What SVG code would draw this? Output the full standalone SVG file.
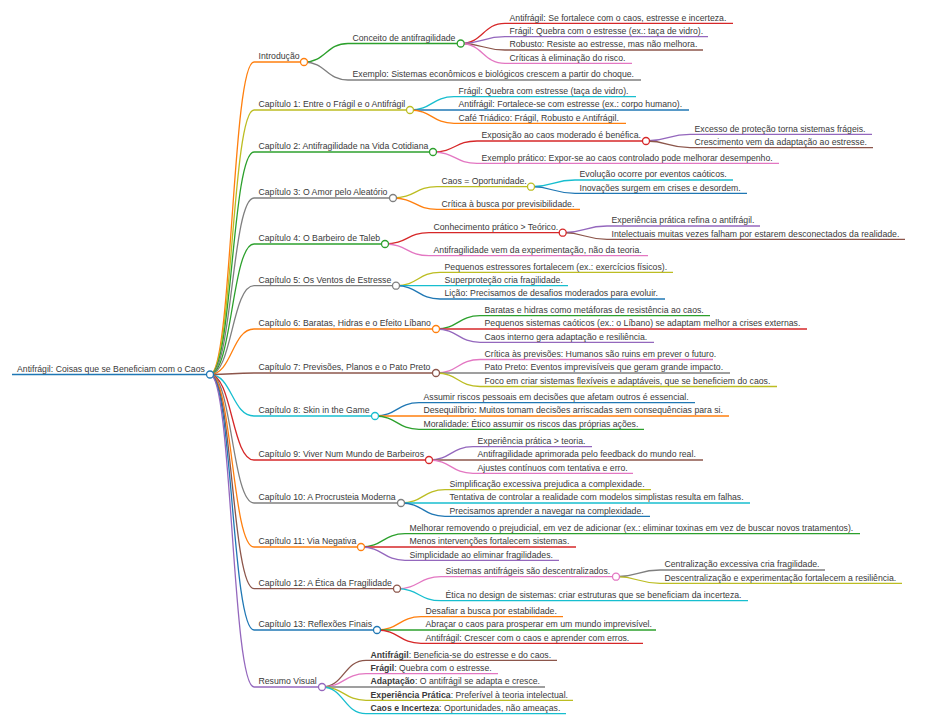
<svg xmlns="http://www.w3.org/2000/svg" width="938" height="728" viewBox="0 0 938 728">
<style>
.t{font-family:"Liberation Sans",Arial,sans-serif;font-size:8.7px;fill:#3a3a3a}
.b{font-weight:bold}
path,line{fill:none;stroke-width:1.3}
circle{fill:#fff;stroke-width:1.3}
.blue{stroke:#1f77b4}.orange{stroke:#ff7f0e}.green{stroke:#2ca02c}.red{stroke:#d62728}.purple{stroke:#9467bd}
.brown{stroke:#8c564b}.pink{stroke:#e377c2}.gray{stroke:#7f7f7f}.olive{stroke:#bcbd22}.cyan{stroke:#17becf}
</style>
<rect width="938" height="728" fill="#fff"/>
<g id="connectors">
<path class="orange" d="M210,374.5C232,374.5 232,62 254,62"/>
<path class="olive" d="M210,374.5C232,374.5 232,110 254,110"/>
<path class="green" d="M210,374.5C232,374.5 232,152 254,152"/>
<path class="gray" d="M210,374.5C232,374.5 232,198 254,198"/>
<path class="green" d="M210,374.5C232,374.5 232,244 254,244"/>
<path class="gray" d="M210,374.5C232,374.5 232,285.7 254,285.7"/>
<path class="orange" d="M210,374.5C232,374.5 232,329 254,329"/>
<path class="brown" d="M210,374.5C232,374.5 232,373 254,373"/>
<path class="cyan" d="M210,374.5C232,374.5 232,416 254,416"/>
<path class="red" d="M210,374.5C232,374.5 232,460 254,460"/>
<path class="gray" d="M210,374.5C232,374.5 232,503 254,503"/>
<path class="orange" d="M210,374.5C232,374.5 232,547 254,547"/>
<path class="brown" d="M210,374.5C232,374.5 232,588.7 254,588.7"/>
<path class="blue" d="M210,374.5C232,374.5 232,630 254,630"/>
<path class="purple" d="M210,374.5C232,374.5 232,687 254,687"/>

<path class="green" d="M304,62C326,62 326,43.5 348,43.5"/>
<path class="gray" d="M304,62C326,62 326,80 348,80"/>
<path class="red" d="M460.7,43.5C482.85,43.5 482.85,23.3 505,23.3"/>
<path class="purple" d="M460.7,43.5C482.85,43.5 482.85,36.7 505,36.7"/>
<path class="brown" d="M460.7,43.5C482.85,43.5 482.85,50 505,50"/>
<path class="pink" d="M460.7,43.5C482.85,43.5 482.85,63.3 505,63.3"/>

<path class="cyan" d="M410,110C432,110 432,96.7 454,96.7"/>
<path class="blue" d="M410,110C432,110 432,110 454,110"/>
<path class="orange" d="M410,110C432,110 432,123.3 454,123.3"/>

<path class="red" d="M433,152C455,152 455,141 477,141"/>
<path class="pink" d="M433,152C455,152 455,163.3 477,163.3"/>
<path class="purple" d="M646,141C668,141 668,134.3 690,134.3"/>
<path class="brown" d="M646,141C668,141 668,147.6 690,147.6"/>

<path class="olive" d="M393,198C415,198 415,186.7 437,186.7"/>
<path class="orange" d="M393,198C415,198 415,209.3 437,209.3"/>
<path class="cyan" d="M531,186.7C553,186.7 553,180 575,180"/>
<path class="blue" d="M531,186.7C553,186.7 553,193.3 575,193.3"/>

<path class="red" d="M385,244C407,244 407,232.7 429,232.7"/>
<path class="pink" d="M385,244C407,244 407,255.7 429,255.7"/>
<path class="purple" d="M562.7,232.7C584.85,232.7 584.85,226 607,226"/>
<path class="brown" d="M562.7,232.7C584.85,232.7 584.85,239.3 607,239.3"/>

<path class="olive" d="M396,285.7C418,285.7 418,272.3 440,272.3"/>
<path class="cyan" d="M396,285.7C418,285.7 418,285.7 440,285.7"/>
<path class="blue" d="M396,285.7C418,285.7 418,299 440,299"/>

<path class="green" d="M436,329C458,329 458,315.7 480,315.7"/>
<path class="red" d="M436,329C458,329 458,329 480,329"/>
<path class="purple" d="M436,329C458,329 458,342.3 480,342.3"/>

<path class="pink" d="M436,373C458,373 458,359.5 480,359.5"/>
<path class="gray" d="M436,373C458,373 458,373 480,373"/>
<path class="olive" d="M436,373C458,373 458,386.5 480,386.5"/>

<path class="blue" d="M375,416C397,416 397,402.7 419,402.7"/>
<path class="orange" d="M375,416C397,416 397,416 419,416"/>
<path class="green" d="M375,416C397,416 397,429.3 419,429.3"/>

<path class="purple" d="M429,460C451,460 451,446.7 473,446.7"/>
<path class="brown" d="M429,460C451,460 451,460 473,460"/>
<path class="pink" d="M429,460C451,460 451,473.3 473,473.3"/>

<path class="olive" d="M401,503C423,503 423,489.7 445,489.7"/>
<path class="cyan" d="M401,503C423,503 423,503 445,503"/>
<path class="blue" d="M401,503C423,503 423,516.3 445,516.3"/>

<path class="green" d="M361,547C383,547 383,533.7 405,533.7"/>
<path class="red" d="M361,547C383,547 383,547 405,547"/>
<path class="purple" d="M361,547C383,547 383,560.3 405,560.3"/>

<path class="pink" d="M397,588.7C419,588.7 419,576.7 441,576.7"/>
<path class="cyan" d="M397,588.7C419,588.7 419,600.7 441,600.7"/>
<path class="gray" d="M616,576.7C638,576.7 638,570 660,570"/>
<path class="olive" d="M616,576.7C638,576.7 638,583.3 660,583.3"/>

<path class="orange" d="M377,630C399,630 399,616.7 421,616.7"/>
<path class="green" d="M377,630C399,630 399,630 421,630"/>
<path class="red" d="M377,630C399,630 399,643.3 421,643.3"/>

<path class="brown" d="M322,687C344,687 344,660.3 366,660.3"/>
<path class="pink" d="M322,687C344,687 344,673.7 366,673.7"/>
<path class="gray" d="M322,687C344,687 344,687 366,687"/>
<path class="olive" d="M322,687C344,687 344,700.3 366,700.3"/>
<path class="cyan" d="M322,687C344,687 344,713.7 366,713.7"/>
</g>

<g id="root"><line class="blue" x1="12" y1="374.5" x2="210" y2="374.5"/><circle class="blue" cx="210" cy="374.5" r="3.5"/><text class="t" x="17" y="371.9">Antifrágil: Coisas que se Beneficiam com o Caos</text></g>

<g id="intro"><line class="orange" x1="254" y1="62" x2="304" y2="62"/><circle class="orange" cx="304" cy="62" r="3.5"/><text class="t" x="258.5" y="59.4">Introdução</text></g>
<g id="conceito"><line class="green" x1="348" y1="43.5" x2="460.7" y2="43.5"/><circle class="green" cx="460.7" cy="43.5" r="3.5"/><text class="t" x="352.5" y="40.9">Conceito de antifragilidade</text></g>
<g id="conceito-1"><line class="red" x1="505" y1="23.3" x2="733" y2="23.3"/><text class="t" x="509.5" y="20.7">Antifrágil: Se fortalece com o caos, estresse e incerteza.</text></g>
<g id="conceito-2"><line class="purple" x1="505" y1="36.7" x2="708" y2="36.7"/><text class="t" x="509.5" y="34.1">Frágil: Quebra com o estresse (ex.: taça de vidro).</text></g>
<g id="conceito-3"><line class="brown" x1="505" y1="50" x2="703" y2="50"/><text class="t" x="509.5" y="47.4">Robusto: Resiste ao estresse, mas não melhora.</text></g>
<g id="conceito-4"><line class="pink" x1="505" y1="63.3" x2="632" y2="63.3"/><text class="t" x="509.5" y="60.7">Críticas à eliminação do risco.</text></g>
<g id="intro-exemplo"><line class="gray" x1="348" y1="80" x2="641" y2="80"/><text class="t" x="352.5" y="77.4">Exemplo: Sistemas econômicos e biológicos crescem a partir do choque.</text></g>

<g id="cap1"><line class="olive" x1="254" y1="110" x2="410" y2="110"/><circle class="olive" cx="410" cy="110" r="3.5"/><text class="t" x="258.5" y="107.4">Capítulo 1: Entre o Frágil e o Antifrágil</text></g>
<g id="cap1-1"><line class="cyan" x1="454" y1="96.7" x2="636" y2="96.7"/><text class="t" x="458.5" y="94.1">Frágil: Quebra com estresse (taça de vidro).</text></g>
<g id="cap1-2"><line class="blue" x1="454" y1="110" x2="689" y2="110"/><text class="t" x="458.5" y="107.4">Antifrágil: Fortalece-se com estresse (ex.: corpo humano).</text></g>
<g id="cap1-3"><line class="orange" x1="454" y1="123.3" x2="626" y2="123.3"/><text class="t" x="458.5" y="120.7">Café Triádico: Frágil, Robusto e Antifrágil.</text></g>

<g id="cap2"><line class="green" x1="254" y1="152" x2="433" y2="152"/><circle class="green" cx="433" cy="152" r="3.5"/><text class="t" x="258.5" y="149.4">Capítulo 2: Antifragilidade na Vida Cotidiana</text></g>
<g id="cap2-1"><line class="red" x1="477" y1="141" x2="646" y2="141"/><circle class="red" cx="646" cy="141" r="3.5"/><text class="t" x="481.5" y="138.4">Exposição ao caos moderado é benéfica.</text></g>
<g id="cap2-1-1"><line class="purple" x1="690" y1="134.3" x2="872" y2="134.3"/><text class="t" x="694.5" y="131.7">Excesso de proteção torna sistemas frágeis.</text></g>
<g id="cap2-1-2"><line class="brown" x1="690" y1="147.6" x2="873" y2="147.6"/><text class="t" x="694.5" y="145">Crescimento vem da adaptação ao estresse.</text></g>
<g id="cap2-2"><line class="pink" x1="477" y1="163.3" x2="779" y2="163.3"/><text class="t" x="481.5" y="160.7">Exemplo prático: Expor-se ao caos controlado pode melhorar desempenho.</text></g>

<g id="cap3"><line class="gray" x1="254" y1="198" x2="393" y2="198"/><circle class="gray" cx="393" cy="198" r="3.5"/><text class="t" x="258.5" y="195.4">Capítulo 3: O Amor pelo Aleatório</text></g>
<g id="cap3-1"><line class="olive" x1="437" y1="186.7" x2="531" y2="186.7"/><circle class="olive" cx="531" cy="186.7" r="3.5"/><text class="t" x="441.5" y="184.1">Caos = Oportunidade.</text></g>
<g id="cap3-1-1"><line class="cyan" x1="575" y1="180" x2="733" y2="180"/><text class="t" x="579.5" y="177.4">Evolução ocorre por eventos caóticos.</text></g>
<g id="cap3-1-2"><line class="blue" x1="575" y1="193.3" x2="747" y2="193.3"/><text class="t" x="579.5" y="190.7">Inovações surgem em crises e desordem.</text></g>
<g id="cap3-2"><line class="orange" x1="437" y1="209.3" x2="580" y2="209.3"/><text class="t" x="441.5" y="206.7">Crítica à busca por previsibilidade.</text></g>

<g id="cap4"><line class="green" x1="254" y1="244" x2="385" y2="244"/><circle class="green" cx="385" cy="244" r="3.5"/><text class="t" x="258.5" y="241.4">Capítulo 4: O Barbeiro de Taleb</text></g>
<g id="cap4-1"><line class="red" x1="429" y1="232.7" x2="562.7" y2="232.7"/><circle class="red" cx="562.7" cy="232.7" r="3.5"/><text class="t" x="433.5" y="230.1">Conhecimento prático &gt; Teórico.</text></g>
<g id="cap4-1-1"><line class="purple" x1="607" y1="226" x2="760" y2="226"/><text class="t" x="611.5" y="223.4">Experiência prática refina o antifrágil.</text></g>
<g id="cap4-1-2"><line class="brown" x1="607" y1="239.3" x2="905" y2="239.3"/><text class="t" x="611.5" y="236.7">Intelectuais muitas vezes falham por estarem desconectados da realidade.</text></g>
<g id="cap4-2"><line class="pink" x1="429" y1="255.7" x2="648" y2="255.7"/><text class="t" x="433.5" y="253.1">Antifragilidade vem da experimentação, não da teoria.</text></g>

<g id="cap5"><line class="gray" x1="254" y1="285.7" x2="396" y2="285.7"/><circle class="gray" cx="396" cy="285.7" r="3.5"/><text class="t" x="258.5" y="283.1">Capítulo 5: Os Ventos de Estresse</text></g>
<g id="cap5-1"><line class="olive" x1="440" y1="272.3" x2="673" y2="272.3"/><text class="t" x="444.5" y="269.7">Pequenos estressores fortalecem (ex.: exercícios físicos).</text></g>
<g id="cap5-2"><line class="cyan" x1="440" y1="285.7" x2="568" y2="285.7"/><text class="t" x="444.5" y="283.1">Superproteção cria fragilidade.</text></g>
<g id="cap5-3"><line class="blue" x1="440" y1="299" x2="665" y2="299"/><text class="t" x="444.5" y="296.4">Lição: Precisamos de desafios moderados para evoluir.</text></g>

<g id="cap6"><line class="orange" x1="254" y1="329" x2="436" y2="329"/><circle class="orange" cx="436" cy="329" r="3.5"/><text class="t" x="258.5" y="326.4">Capítulo 6: Baratas, Hidras e o Efeito Líbano</text></g>
<g id="cap6-1"><line class="green" x1="480" y1="315.7" x2="710" y2="315.7"/><text class="t" x="484.5" y="313.1">Baratas e hidras como metáforas de resistência ao caos.</text></g>
<g id="cap6-2"><line class="red" x1="480" y1="329" x2="807" y2="329"/><text class="t" x="484.5" y="326.4">Pequenos sistemas caóticos (ex.: o Líbano) se adaptam melhor a crises externas.</text></g>
<g id="cap6-3"><line class="purple" x1="480" y1="342.3" x2="654" y2="342.3"/><text class="t" x="484.5" y="339.7">Caos interno gera adaptação e resiliência.</text></g>

<g id="cap7"><line class="brown" x1="254" y1="373" x2="436" y2="373"/><circle class="brown" cx="436" cy="373" r="3.5"/><text class="t" x="258.5" y="370.4">Capítulo 7: Previsões, Planos e o Pato Preto</text></g>
<g id="cap7-1"><line class="pink" x1="480" y1="359.5" x2="713" y2="359.5"/><text class="t" x="484.5" y="356.9">Crítica às previsões: Humanos são ruins em prever o futuro.</text></g>
<g id="cap7-2"><line class="gray" x1="480" y1="373" x2="730" y2="373"/><text class="t" x="484.5" y="370.4">Pato Preto: Eventos imprevisíveis que geram grande impacto.</text></g>
<g id="cap7-3"><line class="olive" x1="480" y1="386.5" x2="777" y2="386.5"/><text class="t" x="484.5" y="383.9">Foco em criar sistemas flexíveis e adaptáveis, que se beneficiem do caos.</text></g>

<g id="cap8"><line class="cyan" x1="254" y1="416" x2="375" y2="416"/><circle class="cyan" cx="375" cy="416" r="3.5"/><text class="t" x="258.5" y="413.4">Capítulo 8: Skin in the Game</text></g>
<g id="cap8-1"><line class="blue" x1="419" y1="402.7" x2="695" y2="402.7"/><text class="t" x="423.5" y="400.1">Assumir riscos pessoais em decisões que afetam outros é essencial.</text></g>
<g id="cap8-2"><line class="orange" x1="419" y1="416" x2="729" y2="416"/><text class="t" x="423.5" y="413.4">Desequilíbrio: Muitos tomam decisões arriscadas sem consequências para si.</text></g>
<g id="cap8-3"><line class="green" x1="419" y1="429.3" x2="644" y2="429.3"/><text class="t" x="423.5" y="426.7">Moralidade: Ético assumir os riscos das próprias ações.</text></g>

<g id="cap9"><line class="red" x1="254" y1="460" x2="429" y2="460"/><circle class="red" cx="429" cy="460" r="3.5"/><text class="t" x="258.5" y="457.4">Capítulo 9: Viver Num Mundo de Barbeiros</text></g>
<g id="cap9-1"><line class="purple" x1="473" y1="446.7" x2="592" y2="446.7"/><text class="t" x="477.5" y="444.1">Experiência prática &gt; teoria.</text></g>
<g id="cap9-2"><line class="brown" x1="473" y1="460" x2="703" y2="460"/><text class="t" x="477.5" y="457.4">Antifragilidade aprimorada pelo feedback do mundo real.</text></g>
<g id="cap9-3"><line class="pink" x1="473" y1="473.3" x2="633" y2="473.3"/><text class="t" x="477.5" y="470.7">Ajustes contínuos com tentativa e erro.</text></g>

<g id="cap10"><line class="gray" x1="254" y1="503" x2="401" y2="503"/><circle class="gray" cx="401" cy="503" r="3.5"/><text class="t" x="258.5" y="500.4">Capítulo 10: A Procrusteia Moderna</text></g>
<g id="cap10-1"><line class="olive" x1="445" y1="489.7" x2="651" y2="489.7"/><text class="t" x="449.5" y="487.1">Simplificação excessiva prejudica a complexidade.</text></g>
<g id="cap10-2"><line class="cyan" x1="445" y1="503" x2="750" y2="503"/><text class="t" x="449.5" y="500.4">Tentativa de controlar a realidade com modelos simplistas resulta em falhas.</text></g>
<g id="cap10-3"><line class="blue" x1="445" y1="516.3" x2="650" y2="516.3"/><text class="t" x="449.5" y="513.7">Precisamos aprender a navegar na complexidade.</text></g>

<g id="cap11"><line class="orange" x1="254" y1="547" x2="361" y2="547"/><circle class="orange" cx="361" cy="547" r="3.5"/><text class="t" x="258.5" y="544.4">Capítulo 11: Via Negativa</text></g>
<g id="cap11-1"><line class="green" x1="405" y1="533.7" x2="860" y2="533.7"/><text class="t" x="409.5" y="531.1">Melhorar removendo o prejudicial, em vez de adicionar (ex.: eliminar toxinas em vez de buscar novos tratamentos).</text></g>
<g id="cap11-2"><line class="red" x1="405" y1="547" x2="576" y2="547"/><text class="t" x="409.5" y="544.4">Menos intervenções fortalecem sistemas.</text></g>
<g id="cap11-3"><line class="purple" x1="405" y1="560.3" x2="559" y2="560.3"/><text class="t" x="409.5" y="557.7">Simplicidade ao eliminar fragilidades.</text></g>

<g id="cap12"><line class="brown" x1="254" y1="588.7" x2="397" y2="588.7"/><circle class="brown" cx="397" cy="588.7" r="3.5"/><text class="t" x="258.5" y="586.1">Capítulo 12: A Ética da Fragilidade</text></g>
<g id="cap12-1"><line class="pink" x1="441" y1="576.7" x2="616" y2="576.7"/><circle class="pink" cx="616" cy="576.7" r="3.5"/><text class="t" x="445.5" y="574.1">Sistemas antifrágeis são descentralizados.</text></g>
<g id="cap12-1-1"><line class="gray" x1="660" y1="570" x2="825" y2="570"/><text class="t" x="664.5" y="567.4">Centralização excessiva cria fragilidade.</text></g>
<g id="cap12-1-2"><line class="olive" x1="660" y1="583.3" x2="902" y2="583.3"/><text class="t" x="664.5" y="580.7">Descentralização e experimentação fortalecem a resiliência.</text></g>
<g id="cap12-2"><line class="cyan" x1="441" y1="600.7" x2="748" y2="600.7"/><text class="t" x="445.5" y="598.1">Ética no design de sistemas: criar estruturas que se beneficiam da incerteza.</text></g>

<g id="cap13"><line class="blue" x1="254" y1="630" x2="377" y2="630"/><circle class="blue" cx="377" cy="630" r="3.5"/><text class="t" x="258.5" y="627.4">Capítulo 13: Reflexões Finais</text></g>
<g id="cap13-1"><line class="orange" x1="421" y1="616.7" x2="563" y2="616.7"/><text class="t" x="425.5" y="614.1">Desafiar a busca por estabilidade.</text></g>
<g id="cap13-2"><line class="green" x1="421" y1="630" x2="656" y2="630"/><text class="t" x="425.5" y="627.4">Abraçar o caos para prosperar em um mundo imprevisível.</text></g>
<g id="cap13-3"><line class="red" x1="421" y1="643.3" x2="643" y2="643.3"/><text class="t" x="425.5" y="640.7">Antifrágil: Crescer com o caos e aprender com erros.</text></g>

<g id="resumo"><line class="purple" x1="254" y1="687" x2="322" y2="687"/><circle class="purple" cx="322" cy="687" r="3.5"/><text class="t" x="258.5" y="684.4">Resumo Visual</text></g>
<g id="resumo-1"><line class="brown" x1="366" y1="660.3" x2="557" y2="660.3"/><text class="t" x="370.5" y="657.7"><tspan class="b">Antifrágil</tspan>: Beneficia-se do estresse e do caos.</text></g>
<g id="resumo-2"><line class="pink" x1="366" y1="673.7" x2="498" y2="673.7"/><text class="t" x="370.5" y="671.1"><tspan class="b">Frágil</tspan>: Quebra com o estresse.</text></g>
<g id="resumo-3"><line class="gray" x1="366" y1="687" x2="545" y2="687"/><text class="t" x="370.5" y="684.4"><tspan class="b">Adaptação</tspan>: O antifrágil se adapta e cresce.</text></g>
<g id="resumo-4"><line class="olive" x1="366" y1="700.3" x2="573" y2="700.3"/><text class="t" x="370.5" y="697.7"><tspan class="b">Experiência Prática</tspan>: Preferível à teoria intelectual.</text></g>
<g id="resumo-5"><line class="cyan" x1="366" y1="713.7" x2="566" y2="713.7"/><text class="t" x="370.5" y="711.1"><tspan class="b">Caos e Incerteza</tspan>: Oportunidades, não ameaças.</text></g>
</svg>
